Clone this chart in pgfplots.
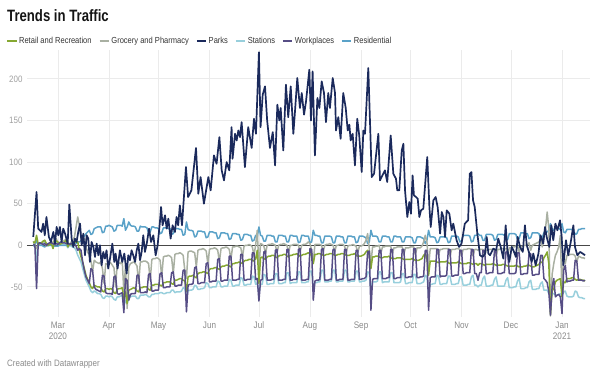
\documentclass[border=0pt]{standalone}
\usepackage{pgfplots}
\pgfplotsset{compat=1.18}
\usepackage{pgfplotstable}
\usepackage{fontspec}
\setmainfont{Liberation Sans}[FakeStretch=0.86]
\newfontfamily\titlefont{Liberation Sans}[FakeStretch=0.8]
\definecolor{cRetail}{HTML}{86A832}
\definecolor{cGrocery}{HTML}{A9B0A2}
\definecolor{cParks}{HTML}{1B2A5C}
\definecolor{cStations}{HTML}{98CFDC}
\definecolor{cWork}{HTML}{564D85}
\definecolor{cResid}{HTML}{5AA2C8}
\definecolor{gridgray}{HTML}{EBEBEB}
\definecolor{ylabgray}{HTML}{A0A0A0}
\definecolor{xlabgray}{HTML}{8A8A8A}
\definecolor{legtext}{HTML}{333333}

\pgfplotstableread{
d R G S W H
-15 4 5 2 1 -1
-14 3 0 1 0 0
-13 12 -4 -18 -52 7
-12 1 2 0 2 0
-11 2 3 1 3 0
-10 3 2 1 2 0
-9 5 4 2 1 -1
-8 6 6 3 2 -2
-7 2 -1 0 0 0
-6 0 1 -1 2 1
-5 1 2 0 3 0
-4 2 3 1 3 0
-3 -4 4 1 2 0
-2 6 5 2 1 -1
-1 5 8 3 2 -1
0 4 2 2 1 -1
1 1 3 0 3 0
2 2 4 1 4 0
3 3 5 1 3 0
4 4 6 1 3 0
5 6 7 0 2 0
6 -2 3 -3 2 1
7 2 0 0 1 0
8 1 4 -1 2 1
9 2 6 -2 2 1
10 3 10 -3 1 1
11 5 22 -6 -1 2
12 4 34 -12 -6 4
13 -6 24 -16 -4 4
14 -14 8 -20 -6 5
15 -20 12 -28 -20 8
16 -28 6 -35 -30 11
17 -36 -2 -42 -38 14
18 -41 -8 -46 -42 16
19 -45 -12 -50 -46 18
20 -50 -18 -55 -28 13
21 -52 -32 -57 -30 14
22 -48 -18 -55 -50 20
23 -49 -20 -56 -53 21
24 -50 -21 -58 -54 22
25 -50 -22 -58 -55 22
26 -51 -20 -59 -56 22
27 -55 -28 -63 -36 15
28 -56 -46 -64 -37 16
29 -52 -22 -61 -57 23
30 -52 -23 -61 -58 23
31 -53 -22 -62 -58 24
32 -52 -21 -61 -58 23
33 -53 -24 -62 -59 22
34 -57 -27 -65 -38 17
35 -58 -50 -66 -37 18
36 -53 -22 -62 -58 24
37 -52 -21 -62 -59 24
38 -52 -22 -61 -58 24
39 -51 -18 -60 -57 23
40 -64 -56 -72 -81 32
41 -56 -24 -66 -40 18
42 -70 -76 -70 -42 22
43 -54 -26 -64 -66 28
44 -53 -22 -62 -59 24
45 -52 -21 -61 -58 23
46 -51 -20 -61 -58 23
47 -52 -22 -61 -58 22
48 -55 -25 -64 -36 17
49 -56 -46 -64 -36 17
50 -51 -20 -60 -57 23
51 -51 -20 -60 -57 22
52 -50 -19 -60 -57 22
53 -50 -19 -59 -56 22
54 -50 -20 -60 -57 21
55 -53 -22 -62 -35 15
56 -54 -42 -62 -34 16
57 -48 -17 -59 -55 22
58 -48 -16 -59 -55 22
59 -47 -16 -58 -54 21
60 -47 -15 -58 -54 21
61 -47 -16 -58 -54 20
62 -48 -18 -57 -34 14
63 -49 -38 -57 -33 15
64 -45 -14 -58 -51 21
65 -45 -13 -58 -51 21
66 -44 -13 -57 -50 21
67 -44 -12 -57 -50 20
68 -44 -13 -57 -50 20
69 -46 -15 -54 -33 13
70 -47 -34 -54 -32 14
71 -42 -11 -57 -49 20
72 -42 -10 -56 -49 20
73 -41 -10 -56 -48 20
74 -40 -9 -56 -48 19
75 -40 -10 -55 -48 19
76 -42 -12 -51 -30 12
77 -43 -30 -52 -30 13
78 -55 -40 -62 -80 28
79 -38 -8 -55 -48 19
80 -37 -7 -54 -47 18
81 -37 -7 -54 -47 18
82 -36 -8 -53 -46 17
83 -38 -9 -48 -27 10
84 -39 -26 -49 -26 11
85 -34 -6 -53 -46 17
86 -33 -5 -53 -46 17
87 -33 -5 -52 -45 17
88 -32 -4 -52 -45 16
89 -32 -5 -51 -45 16
90 -33 -7 -45 -22 9
91 -34 -22 -46 -21 10
92 -29 -5 -51 -44 16
93 -28 -4 -51 -44 16
94 -28 -4 -50 -43 16
95 -27 -3 -50 -43 15
96 -27 -4 -50 -43 15
97 -28 -6 -43 -17 8
98 -29 -20 -44 -16 9
99 -26 -4 -50 -43 15
100 -25 -3 -50 -43 15
101 -25 -3 -49 -42 15
102 -24 -2 -49 -42 14
103 -24 -3 -49 -42 14
104 -25 -5 -41 -13 7
105 -26 -17 -42 -13 8
106 -22 -2 -49 -42 14
107 -22 -2 -49 -42 14
108 -21 -1 -48 -42 14
109 -21 -1 -48 -41 13
110 -20 -2 -48 -41 13
111 -21 -3 -39 -11 6
112 -22 -14 -40 -11 7
113 -19 -1 -48 -42 13
114 -18 0 -48 -42 13
115 -18 0 -47 -41 13
116 -17 1 -47 -41 12
117 -17 0 -47 -41 12
118 -18 -2 -37 -9 5
119 -19 -12 -38 -9 6
120 -16 0 -47 -41 12
121 -6 18 -45 -40 10
122 -46 -28 -58 -67 22
123 -15 2 -47 -42 12
124 -14 1 -47 -41 11
125 -16 -1 -35 -8 5
126 -17 -10 -36 -7 5
127 -14 0 -47 -42 12
128 -13 1 -47 -42 12
129 -13 1 -46 -42 12
130 -12 2 -46 -41 11
131 -12 1 -46 -41 11
132 -14 0 -34 -6 4
133 -15 -9 -34 -5 4
134 -13 0 -46 -42 12
135 -12 1 -46 -42 12
136 -12 1 -46 -42 12
137 -11 2 -45 -41 11
138 -11 1 -45 -41 11
139 -13 0 -33 -5 4
140 -14 -9 -33 -5 4
141 -12 0 -46 -42 12
142 -12 0 -45 -42 12
143 -11 1 -45 -41 11
144 -11 1 -45 -41 11
145 -10 1 -45 -41 11
146 -12 0 -32 -5 3
147 -13 -8 -32 -4 4
148 -12 0 -45 -42 12
149 -11 1 -45 -42 12
150 -11 1 -45 -42 11
151 -10 2 -44 -41 11
152 -9 4 -44 -41 11
153 -10 2 -31 -4 3
154 -13 -6 -31 -5 4
155 -22 -20 -52 -66 18
156 -11 1 -45 -43 12
157 -11 1 -45 -42 12
158 -10 1 -44 -42 11
159 -10 1 -44 -41 11
160 -11 0 -30 -5 3
161 -12 -8 -30 -4 3
162 -12 0 -44 -42 11
163 -11 1 -44 -42 11
164 -11 1 -44 -42 11
165 -10 2 -43 -41 11
166 -10 1 -43 -41 10
167 -11 0 -30 -5 3
168 -12 -8 -30 -5 3
169 -12 0 -44 -42 11
170 -11 0 -44 -42 11
171 -11 1 -43 -41 11
172 -10 1 -43 -41 10
173 -10 1 -43 -41 10
174 -11 -1 -30 -5 3
175 -12 -9 -30 -5 3
176 -12 -1 -44 -42 11
177 -12 0 -44 -42 11
178 -11 0 -43 -41 11
179 -11 1 -43 -41 10
180 -10 0 -43 -41 10
181 -12 -1 -31 -6 3
182 -13 -9 -31 -6 4
183 -13 -1 -44 -41 11
184 -13 -1 -44 -41 11
185 -12 0 -43 -40 11
186 -11 2 -43 -40 10
187 -8 6 -42 -38 9
188 -6 14 -32 -8 2
189 -12 -4 -33 -7 4
190 -28 -22 -55 -78 18
191 -14 -2 -44 -41 11
192 -14 -2 -44 -40 11
193 -13 -1 -44 -40 11
194 -13 -1 -43 -40 10
195 -14 0 -32 -6 4
196 -15 -10 -32 -6 4
197 -15 -2 -45 -40 11
198 -14 -2 -44 -40 11
199 -14 -1 -44 -40 11
200 -14 -1 -44 -39 10
201 -13 -1 -44 -39 10
202 -15 -1 -33 -5 4
203 -16 -10 -33 -5 4
204 -16 -3 -45 -40 11
205 -16 -3 -45 -40 11
206 -15 -2 -45 -39 10
207 -15 -2 -45 -39 10
208 -15 -2 -44 -39 10
209 -16 -2 -34 -5 4
210 -17 -11 -34 -5 4
211 -17 -3 -46 -39 10
212 -17 -3 -46 -39 10
213 -17 -3 -45 -38 10
214 -17 -2 -45 -38 10
215 -16 -2 -45 -38 9
216 -17 -2 -35 -4 3
217 -18 -11 -35 -4 3
218 -18 -3 -46 -39 10
219 -18 -3 -46 -39 10
220 -17 -3 -46 -38 10
221 -16 -1 -45 -38 9
222 -12 4 -44 -37 8
223 -10 12 -36 -6 2
224 -16 4 -38 -6 6
225 -36 -26 -58 -78 18
226 -19 -4 -47 -39 10
227 -19 -4 -47 -38 10
228 -19 -4 -46 -38 10
229 -19 -4 -46 -38 9
230 -20 -4 -36 -5 3
231 -21 -12 -37 -5 4
232 -20 -5 -47 -38 10
233 -20 -5 -47 -37 10
234 -20 -4 -46 -37 10
235 -20 -4 -46 -37 10
236 -19 -4 -46 -36 9
237 -21 -4 -37 -5 3
238 -22 -13 -37 -5 4
239 -21 -5 -47 -37 11
240 -21 -5 -47 -37 11
241 -21 -5 -47 -36 11
242 -21 -4 -46 -36 11
243 -20 -4 -46 -36 10
244 -21 -5 -38 -6 4
245 -22 -13 -38 -6 5
246 -22 -5 -48 -34 12
247 -22 -5 -48 -34 12
248 -22 -5 -48 -33 12
249 -21 -4 -47 -33 12
250 -21 -4 -47 -33 11
251 -22 -5 -38 -5 4
252 -23 -13 -36 -5 5
253 -22 -5 -48 -34 12
254 -22 -5 -48 -34 12
255 -24 -6 -50 -42 14
256 -22 -5 -48 -33 12
257 -22 -5 -48 -33 12
258 -23 -5 -40 -6 6
259 -24 -13 -37 -6 6
260 -23 -6 -49 -34 13
261 -23 -6 -49 -34 13
262 -23 -5 -49 -33 13
263 -23 -5 -48 -33 13
264 -22 -5 -48 -33 12
265 -23 -5 -41 -7 6
266 -24 -13 -38 -7 7
267 -24 -5 -49 -34 13
268 -24 -5 -49 -34 13
269 -24 -4 -49 -34 13
270 -23 -4 -49 -33 13
271 -23 -4 -49 -33 12
272 -24 -4 -42 -8 6
273 -25 -12 -39 -8 7
274 -25 -3 -51 -34 14
275 -25 -3 -51 -34 14
276 -25 -2 -51 -34 14
277 -25 -2 -50 -34 14
278 -24 -1 -50 -33 13
279 -25 0 -43 -9 7
280 -26 -8 -40 -9 8
281 -26 -2 -52 -35 15
282 -26 -1 -52 -35 15
283 -25 0 -52 -34 15
284 -25 0 -51 -34 14
285 -24 1 -51 -34 14
286 -24 3 -44 -10 8
287 -25 -6 -42 -10 9
288 -26 0 -53 -36 15
289 -26 1 -53 -36 15
290 -25 2 -53 -35 15
291 -24 3 -52 -35 15
292 -23 4 -52 -35 14
293 -20 8 -46 -12 8
294 -21 -2 -44 -12 9
295 -15 10 -54 -40 15
296 -12 20 -54 -42 16
297 -8 40 -54 -45 16
298 -22 20 -58 -56 18
299 -82 -85 -62 -84 26
300 -55 -35 -58 -50 20
301 -52 -22 -58 -40 18
302 -44 -12 -60 -62 21
303 -42 -8 -60 -60 21
304 -41 -2 -59 -59 20
305 -40 12 -58 -62 19
306 -62 -60 -62 -82 26
307 -44 -14 -56 -30 16
308 -45 -22 -55 -24 15
309 -40 -12 -61 -44 19
310 -40 -12 -62 -43 19
311 -40 -11 -62 -43 19
312 -39 -11 -62 -42 19
313 -39 -11 -61 -42 18
314 -41 -13 -55 -18 13
315 -42 -20 -56 -19 14
316 -41 -13 -62 -42 19
317 -41 -14 -63 -42 19
318 -42 -15 -63 -42 20
319 -42 -15 -64 -43 20
320 -43 -16 -64 -42 20
}\mobility

\pgfplotstableread{
d P
-15 10
-13 64
-12 20
-10 16
-9 26
-8 12
-7 34
-5.5 10
-4.3 4
-2.8 16
-1.8 2
-0.8 22
0.2 12
1.2 22
2.2 4
3.2 20
4.3 14
5.9 2
6.9 49
8.3 8
9.3 -2
10.3 8
11.3 4
12.3 16
13.4 26
14.4 0
15.4 14
16.4 -12
17.4 12
18.4 8
19.4 -20
20.4 4
21.5 -2
22.5 -14
23.5 2
24.5 -12
25.5 0
26.5 -24
27.5 -8
28.5 -16
29.5 -6
30.5 -28
31.6 -16
33 2
34.2 -20
35 -10
36.2 -28
37.6 -6
39 -20
40.3 -10
41.7 -34
42.7 -12
43.7 -18
44.7 -6
45.7 -12
46.8 -20
47.8 -6
48.8 2
49.8 -18
50.8 -8
51.8 12
52.8 -8
53.9 2
55.3 20
56.5 4
57.9 12
59.3 -12
60.5 0
61.9 28
62.6 46
63.5 24
65 36
66 20
67 32
68.4 8
69.6 24
71 16
72 34
73 24
74 48
75.3 24
77.7 94
79 58
81 66
83.8 117
85.2 62
86.6 82
88.6 50
91.3 82
92.7 66
94.7 108
96.3 98
98 130
99.4 90
100.8 78
102.4 100
104 90
105.4 142
106 104
107.5 134
108.5 126
109.5 138
110.5 130
111.5 148
113.5 94
115.5 142
117.6 117
119 152
120.2 134
122 232
123 142
124.3 181
125.7 191
127 150
128.7 117
130.4 136
131.8 96
133.2 169
134.4 150
135.2 165
136.8 114
138.4 193
139.8 154
141.3 191
142.9 134
143.9 161
145.3 201
146.9 165
148 183
149.4 157
150.6 173
152.6 211
153.6 150
154.6 209
156 108
157.5 177
158.7 165
160.1 197
161.5 183
162.7 148
164.1 183
165.1 165
166.8 201
168.2 183
168.8 138
170.2 154
171.6 128
173.2 183
174.7 165
175.9 138
176.9 145
177.7 126
178.9 134
180.3 96
181.7 152
182.9 132
184.4 88
185.4 138
186.4 134
188.4 213
190.5 82
191.9 86
194.5 134
195.5 78
198.5 90
199.9 76
202 132
203.6 86
205.2 80
206 66
207.2 66
208.7 114
209.7 122
210.7 66
212.1 34
213.3 52
214.3 38
215.3 84
216.1 60
217.4 58
218.4 56
219.4 34
220.4 42
221.8 44
222.8 70
224.2 106
225.5 46
226.3 22
227.9 54
229.3 58
230.5 46
232 14
233 40
234 34
235 10
236 42
237.6 38
239 18
240 26
242 6
243.5 -2
245 2
247 26
249 30
250 86
251 88
252 54
253 46
254.6 14
256.2 -12
257.8 -14
259.3 -10
260.3 10
261.3 -10
262.3 -12
264.3 -4
266 -6
267.3 8
268.8 -2
270.4 -16
271.8 24
272.8 -4
274 -20
275.5 -2
276.5 -6
278 -14
279.1 10
280.5 -2
282.2 -8
283.5 24
284.6 0
286.2 -10
287.6 -20
288.6 -10
290 -24
291.7 -10
293 12
294.6 2
295.7 22
296.7 10
298.3 -2
299.5 24
300.7 6
302 26
303.2 18
304.8 30
305.8 10
306.8 -24
308.4 6
309.8 -12
311.5 6
312.9 24
313.9 -2
315.3 -12
317 -8
318.6 -10
320 -12
}\parks

\begin{document}
\begin{tikzpicture}
\path[use as bounding box] (0,0) rectangle (600bp,380bp);
\node[anchor=west, inner sep=0pt, text=black!92] at (7bp,364bp)
  {\titlefont\fontsize{16.5}{19}\selectfont\bfseries Trends in Traffic};
\node[anchor=west, inner sep=0pt, text=xlabgray] at (7bp,16bp)
  {\fontsize{9.3}{11}\selectfont Created with Datawrapper};
\begin{axis}[
  at={(27bp,63bp)}, anchor=south west,
  scale only axis, width=563bp, height=267bp,
  xmin=-18.8, xmax=323, ymin=-86.2, ymax=234.7,
  axis line style={draw=none},
  major tick length=0pt,
  /pgf/number format/assume math mode=true,
  xtick={0,31,61,92,122,153,184,214,245,275,306},
  xticklabels={Mar\\2020,Apr,May,Jun,Jul,Aug,Sep,Oct,Nov,Dec,Jan\\2021},
  xticklabel style={align=center, font=\fontsize{9.5}{12}\selectfont, text=xlabgray, yshift=-1bp},
  ytick={-50,0,50,100,150,200},
  yticklabel style={font=\fontsize{9.3}{11}\selectfont, text=ylabgray, xshift=-1bp},
  xmajorgrids, ymajorgrids,
  major grid style={draw=gridgray, line width=0.8bp},
  extra y ticks={0}, extra y tick labels={},
  extra y tick style={grid=major, major grid style={draw=black!72, line width=0.9bp}},
  legend style={at={(0,1)}, anchor=south west, xshift=-21bp, yshift=3bp,
    draw=none, fill=none, inner sep=0pt,
    font=\fontsize{8.8}{10}\selectfont, text=legtext,
    legend columns=6,
    /tikz/every even column/.append style={column sep=5.5bp},
    nodes={inner sep=1.4bp}},
  legend cell align=left,
  legend image code/.code={\draw[#1, line width=2bp] (0bp,0bp) -- (9.5bp,0bp);},
  every axis plot/.append style={line join=round},
]
\addlegendimage{draw=cRetail}\addlegendentry{Retail and Recreation}
\addlegendimage{draw=cGrocery}\addlegendentry{Grocery and Pharmacy}
\addlegendimage{draw=cParks}\addlegendentry{Parks}
\addlegendimage{draw=cStations}\addlegendentry{Stations}
\addlegendimage{draw=cWork}\addlegendentry{Workplaces}
\addlegendimage{draw=cResid}\addlegendentry{Residential}

\addplot[cStations, line width=1.5bp, forget plot] table[x=d, y=S] {\mobility};
\addplot[cResid, line width=1.5bp, forget plot] table[x=d, y=H] {\mobility};
\addplot[cGrocery, line width=1.5bp, forget plot] table[x=d, y=G] {\mobility};
\addplot[cRetail, line width=1.5bp, forget plot] table[x=d, y=R] {\mobility};
\addplot[cWork, line width=1.5bp, forget plot] table[x=d, y=W] {\mobility};
\addplot[cParks, line width=1.7bp, forget plot] table[x=d, y=P] {\parks};
\end{axis}
\end{tikzpicture}
\end{document}
